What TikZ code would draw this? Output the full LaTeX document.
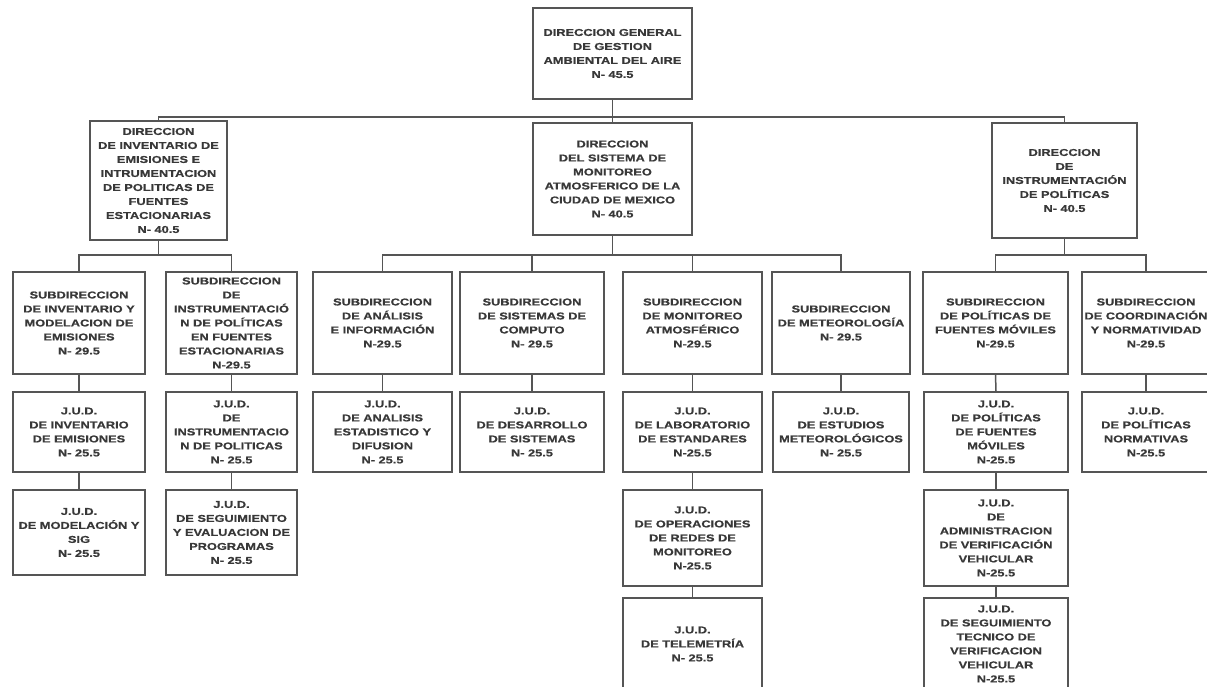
\documentclass[tikz,border=0pt]{standalone}
\usepackage{fontspec}
\newfontfamily\orgfont{Liberation Sans}[FakeStretch=1.28, FakeBold=0.6]
\definecolor{txt}{HTML}{383838}
\definecolor{edge}{HTML}{555555}
\tikzset{
  box/.style={draw=edge, line width=1.5pt, rectangle, inner sep=0pt, align=center,
    text=txt, font=\orgfont\bfseries\fontsize{10}{14}\selectfont},
  link/.style={draw=edge, line width=1.5pt}
}
\newcommand\orgbox[6]{\node[box, minimum width={(#3-#2)*1pt}, minimum height={(#5-#4)*1pt}] (#1) at ({(#2+#3)/2},{(#4+#5)/2}) {#6};}
\begin{document}
\begin{tikzpicture}[x=1pt,y=-1pt]
\fill[white] (0,0) rectangle (1207,686);
\useasboundingbox (0,0) rectangle (1207,686);
\coordinate (b0) at (0,117);
\coordinate (b1) at (0,255);
% level 0
\orgbox{g}{533}{692}{8}{99}{DIRECCION GENERAL\\DE GESTION\\AMBIENTAL DEL AIRE\\N- 45.5}
% level 1
\orgbox{d1}{90}{227}{121}{240}{DIRECCION\\DE INVENTARIO DE\\EMISIONES E\\INTRUMENTACION\\DE POLITICAS DE\\FUENTES\\ESTACIONARIAS\\N- 40.5}
\orgbox{d2}{533}{692}{123}{235}{DIRECCION\\DEL SISTEMA DE\\MONITOREO\\ATMOSFERICO DE LA\\CIUDAD DE MEXICO\\N- 40.5}
\orgbox{d3}{992}{1137}{123}{238}{DIRECCION\\DE\\INSTRUMENTACIÓN\\DE POLÍTICAS\\N- 40.5}
% level 2
\orgbox{s1}{13}{145}{272}{374}{SUBDIRECCION\\DE INVENTARIO Y\\MODELACION DE\\EMISIONES\\N- 29.5}
\orgbox{s2}{166}{297}{272}{374}{SUBDIRECCION\\DE\\INSTRUMENTACIÓ\\N DE POLÍTICAS\\EN FUENTES\\ESTACIONARIAS\\N-29.5}
\orgbox{s3}{313}{452}{272}{374}{SUBDIRECCION\\DE ANÁLISIS\\E INFORMACIÓN\\N-29.5}
\orgbox{s4}{460}{604}{272}{374}{SUBDIRECCION\\DE SISTEMAS DE\\COMPUTO\\N- 29.5}
\orgbox{s5}{623}{762}{272}{374}{SUBDIRECCION\\DE MONITOREO\\ATMOSFÉRICO\\N-29.5}
\orgbox{s6}{772}{910}{272}{374}{SUBDIRECCION\\DE METEOROLOGÍA\\N- 29.5}
\orgbox{s7}{923}{1068}{272}{374}{SUBDIRECCION\\DE POLÍTICAS DE\\FUENTES MÓVILES\\N-29.5}
\orgbox{s8}{1082}{1210}{272}{374}{SUBDIRECCION\\DE COORDINACIÓN\\Y NORMATIVIDAD\\N-29.5}
% level 3
\orgbox{j1}{13}{145}{392}{472}{J.U.D.\\DE INVENTARIO\\DE EMISIONES\\N- 25.5}
\orgbox{j2}{166}{297}{392}{472}{J.U.D.\\DE\\INSTRUMENTACIO\\N DE POLITICAS\\N- 25.5}
\orgbox{j3}{313}{452}{392}{472}{J.U.D.\\DE ANALISIS\\ESTADISTICO Y\\DIFUSION\\N- 25.5}
\orgbox{j4}{460}{604}{392}{472}{J.U.D.\\DE DESARROLLO\\DE SISTEMAS\\N- 25.5}
\orgbox{j5}{623}{762}{392}{472}{J.U.D.\\DE LABORATORIO\\DE ESTANDARES\\N-25.5}
\orgbox{j6}{773}{909}{392}{472}{J.U.D.\\DE ESTUDIOS\\METEOROLÓGICOS\\N- 25.5}
\orgbox{j7}{924}{1068}{392}{472}{J.U.D.\\DE POLÍTICAS\\DE FUENTES\\MÓVILES\\N-25.5}
\orgbox{j8}{1082}{1210}{392}{472}{J.U.D.\\DE POLÍTICAS\\NORMATIVAS\\N-25.5}
% level 4
\orgbox{k1}{13}{145}{490}{575}{J.U.D.\\DE MODELACIÓN Y\\SIG\\N- 25.5}
\orgbox{k2}{166}{297}{490}{575}{J.U.D.\\DE SEGUIMIENTO\\Y EVALUACION DE\\PROGRAMAS\\N- 25.5}
\orgbox{k5}{623}{762}{490}{586}{J.U.D.\\DE OPERACIONES\\DE REDES DE\\MONITOREO\\N-25.5}
\orgbox{k7}{924}{1068}{490}{586}{J.U.D.\\DE\\ADMINISTRACION\\DE VERIFICACIÓN\\VEHICULAR\\N-25.5}
% level 5
\orgbox{l5}{623}{762}{598}{690}{J.U.D.\\DE TELEMETRÍA\\N- 25.5}
\orgbox{l7}{924}{1068}{598}{690}{J.U.D.\\DE SEGUIMIENTO\\TECNICO DE\\VERIFICACION\\VEHICULAR\\N-25.5}
% connectors level 0-1
\draw[link] (g.south) -- (g.south |- b0);
\draw[link] (d1.north) -- (d1.north |- b0) -- (d3.north |- b0) -- (d3.north);
\draw[link] (d2.north) -- (d2.north |- b0);
% connectors level 1-2
\draw[link] (d1.south) -- (d1.south |- b1);
\draw[link] (s1.north) -- (s1.north |- b1) -- (s2.north |- b1) -- (s2.north);
\draw[link] (d2.south) -- (d2.south |- b1);
\draw[link] (s3.north) -- (s3.north |- b1) -- (s6.north |- b1) -- (s6.north);
\draw[link] (s4.north) -- (s4.north |- b1);
\draw[link] (s5.north) -- (s5.north |- b1);
\draw[link] (d3.south) -- (d3.south |- b1);
\draw[link] (s7.north) -- (s7.north |- b1) -- (s8.north |- b1) -- (s8.north);
% vertical chains
\draw[link] (s1.south) -- (j1.north);
\draw[link] (s2.south) -- (j2.north);
\draw[link] (s3.south) -- (j3.north);
\draw[link] (s4.south) -- (j4.north);
\draw[link] (s5.south) -- (j5.north);
\draw[link] (s6.south) -- (j6.north);
\draw[link] (s7.south) -- (j7.north);
\draw[link] (s8.south) -- (j8.north);
\draw[link] (j1.south) -- (k1.north);
\draw[link] (j2.south) -- (k2.north);
\draw[link] (j5.south) -- (k5.north);
\draw[link] (j7.south) -- (k7.north);
\draw[link] (k5.south) -- (l5.north);
\draw[link] (k7.south) -- (l7.north);
\end{tikzpicture}
\end{document}
